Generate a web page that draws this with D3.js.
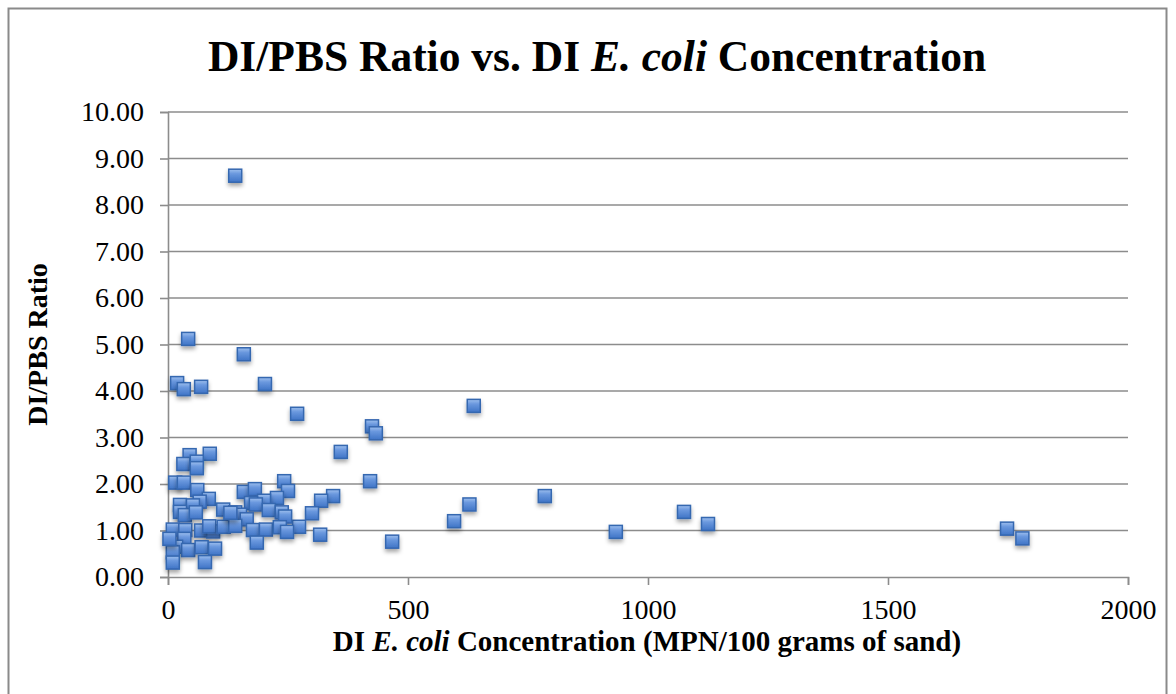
<!DOCTYPE html>
<html>
<head>
<meta charset="utf-8">
<script src="https://cdn.jsdelivr.net/npm/d3@7"></script>
<style>
  body { margin: 0; background: #fff; }
  svg { display: block; }
  text { font-family: "Liberation Serif", "DejaVu Serif", serif; fill: #000; }
</style>
</head>
<body>
<div id="chart"></div>
<script>
// DI E. coli concentration (MPN/100 g sand) and DI/PBS ratio
var concentration = [140, 42, 158, 19, 33, 69, 202, 269, 637, 425, 433, 360, 421, 344, 319,
  628, 596, 785, 933, 1075, 1125, 1748, 1780, 467, 317, 300, 273,
  87, 45, 32, 60, 60, 15, 33, 61, 85, 66, 25, 52, 25, 35, 58, 115, 10, 36, 69, 94, 86, 116,
  34, 17, 42, 70, 98, 10, 10, 77, 3,
  158, 181, 242, 250, 227, 200, 173, 183, 210, 237, 244, 140, 150, 164, 140, 177, 204, 233,
  248, 185, 130];
var ratio = [8.63, 5.12, 4.79, 4.17, 4.04, 4.09, 4.15, 3.51, 3.68, 3.24, 3.09, 2.69, 2.06, 1.74, 1.64,
  1.56, 1.20, 1.74, 0.97, 1.40, 1.14, 1.04, 0.83, 0.76, 0.91, 1.37, 1.08,
  2.65, 2.62, 2.43, 2.48, 2.34, 2.03, 2.03, 1.87, 1.68, 1.62, 1.55, 1.54, 1.40, 1.33, 1.39, 1.45, 1.02, 1.01, 1.00, 0.98, 1.09, 1.08,
  0.82, 0.65, 0.58, 0.64, 0.61, 0.53, 0.31, 0.32, 0.82,
  1.83, 1.89, 2.06, 1.85, 1.70, 1.64, 1.59, 1.56, 1.44, 1.39, 1.30, 1.39, 1.34, 1.24, 1.10, 1.01, 1.02, 1.07,
  0.97, 0.74, 1.38];
var xTicks = [0, 500, 1000, 1500, 2000];
var yTicks = [0, 1, 2, 3, 4, 5, 6, 7, 8, 9, 10];

var width = 1176, height = 694;
var margin = {left: 168, right: 48, top: 112, bottom: 117};

var svg = d3.select("#chart").append("svg")
  .attr("width", width)
  .attr("height", height);

// chart frame
svg.append("rect")
  .attr("x", 8.5).attr("y", 8.5)
  .attr("width", 1158).attr("height", 720)
  .attr("fill", "#fff")
  .attr("stroke", "#8a8a8a")
  .attr("stroke-width", 2);

var defs = svg.append("defs");
var grad = defs.append("linearGradient")
  .attr("id", "markerFill")
  .attr("x1", 0).attr("y1", 0).attr("x2", 0).attr("y2", 1);
grad.append("stop").attr("offset", "0%").attr("stop-color", "#9fc0ee");
grad.append("stop").attr("offset", "35%").attr("stop-color", "#6a98de");
grad.append("stop").attr("offset", "100%").attr("stop-color", "#3f74c6");
var shadow = defs.append("filter")
  .attr("id", "shadow")
  .attr("x", "-50%").attr("y", "-50%").attr("width", "200%").attr("height", "220%");
shadow.append("feDropShadow")
  .attr("dx", 0).attr("dy", 3).attr("stdDeviation", 2)
  .attr("flood-color", "#000").attr("flood-opacity", 0.35);

var x = d3.scaleLinear().domain([0, 2000])
  .range([margin.left, width - margin.right]);
var y = d3.scaleLinear().domain([0, 10])
  .range([height - margin.bottom, margin.top]);

// horizontal gridlines
svg.append("g")
  .selectAll("line")
  .data(yTicks.slice(1))
  .enter().append("line")
  .attr("x1", x(0)).attr("x2", x(2000))
  .attr("y1", d => y(d)).attr("y2", d => y(d))
  .attr("stroke", "#8c8c8c")
  .attr("stroke-width", 1.6);

// y axis
var yAxis = d3.axisLeft(y)
  .tickValues(yTicks)
  .tickFormat(d3.format(".2f"))
  .tickSize(8)
  .tickPadding(16);
var gy = svg.append("g")
  .attr("transform", "translate(" + x(0) + ",0)")
  .call(yAxis);
gy.select(".domain").attr("stroke", "#8c8c8c").attr("stroke-width", 1.6);
gy.selectAll(".tick line").attr("stroke", "#8c8c8c").attr("stroke-width", 1.6);
gy.selectAll(".tick text")
  .attr("font-size", 28)
  .attr("font-family", "Liberation Serif, serif")
  .attr("fill", "#000");

// x axis
var xAxis = d3.axisBottom(x)
  .tickValues(xTicks)
  .tickFormat(d3.format("d"))
  .tickSize(8)
  .tickPadding(14);
var gx = svg.append("g")
  .attr("transform", "translate(0," + y(0) + ")")
  .call(xAxis);
gx.select(".domain").attr("stroke", "#8c8c8c").attr("stroke-width", 1.6);
gx.selectAll(".tick line").attr("stroke", "#8c8c8c").attr("stroke-width", 1.6);
gx.selectAll(".tick text")
  .attr("font-size", 28)
  .attr("font-family", "Liberation Serif, serif")
  .attr("fill", "#000");

// markers
var pts = concentration.map((c, i) => [c, ratio[i]]);
var s = 13;
svg.append("g")
  .selectAll("rect")
  .data(pts)
  .enter().append("rect")
  .attr("x", d => x(d[0]) - s / 2)
  .attr("y", d => y(d[1]) - s / 2)
  .attr("width", s).attr("height", s)
  .attr("fill", "url(#markerFill)")
  .attr("stroke", "#3567b0")
  .attr("stroke-width", 1.5)
  .attr("filter", "url(#shadow)");

// title
var title = svg.append("text")
  .attr("x", 597).attr("y", 71)
  .attr("text-anchor", "middle")
  .attr("font-size", 43.5)
  .attr("font-weight", "bold");
title.append("tspan").text("DI/PBS Ratio vs. DI ");
title.append("tspan").attr("font-style", "italic").text("E. coli");
title.append("tspan").text(" Concentration");

// x axis title
var xt = svg.append("text")
  .attr("x", 647).attr("y", 651)
  .attr("text-anchor", "middle")
  .attr("font-size", 29)
  .attr("font-weight", "bold");
xt.append("tspan").text("DI ");
xt.append("tspan").attr("font-style", "italic").text("E. coli");
xt.append("tspan").text(" Concentration (MPN/100 grams of sand)");

// y axis title
svg.append("text")
  .attr("transform", "translate(47," + y(5) + ") rotate(-90)")
  .attr("text-anchor", "middle")
  .attr("font-size", 28)
  .attr("font-weight", "bold")
  .text("DI/PBS Ratio");
</script>
</body>
</html>
